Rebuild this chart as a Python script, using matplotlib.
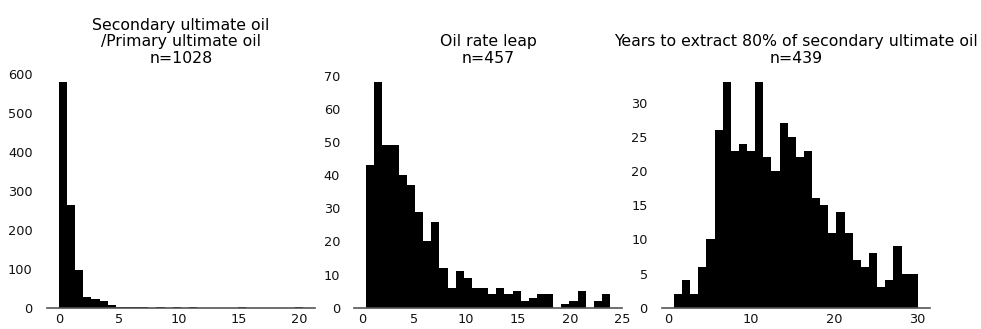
import matplotlib
import numpy as np

matplotlib.use("Agg")
import matplotlib.pyplot as plt

# 直方图计数，每个面板 30 个 bin
ratio_range = (0.0, 20.3)
ratio_counts = [580, 265, 97, 27, 22, 16, 6, 3, 1, 1,
                1, 0, 1, 0, 3, 0, 1, 0, 0, 0,
                0, 0, 1, 0, 0, 0, 0, 0, 0, 3]

leap_range = (0.38, 23.88)
leap_counts = [43, 68, 49, 49, 40, 37, 29, 20, 26, 12,
               6, 11, 9, 6, 6, 4, 6, 4, 5, 2,
               3, 4, 4, 0, 1, 2, 5, 0, 2, 4]

years_range = (0.69, 30.06)
years_counts = [2, 4, 2, 6, 10, 26, 33, 23, 24, 23,
                33, 22, 20, 27, 25, 22, 23, 16, 15, 11,
                14, 11, 7, 6, 8, 3, 4, 9, 5, 5]

titles = ["Secondary ultimate oil\n/Primary ultimate oil\nn=1028",
          "Oil rate leap\nn=457",
          "Years to extract 80% of secondary ultimate oil\nn=439"]
xticks = [[0, 5, 10, 15, 20], [0, 5, 10, 15, 20, 25], [0, 10, 20, 30]]

fig = plt.figure(figsize=(9.81, 3.29), dpi=100)
lefts = [0.0476, 0.3609, 0.6745]
panels = [(ratio_range, ratio_counts), (leap_range, leap_counts),
          (years_range, years_counts)]

for left, (rng, counts), title, xt in zip(lefts, panels, titles, xticks):
    ax = fig.add_axes([left, 0.0647, 0.2735, 0.7195])
    edges = np.linspace(rng[0], rng[1], len(counts) + 1)
    centers = (edges[:-1] + edges[1:]) / 2
    ax.hist(centers, bins=edges, weights=counts, color="black")
    ax.set_xticks(xt)
    ax.set_title(title, fontsize=11.3, linespacing=1.13, pad=6)
    for side in ("top", "right", "left"):
        ax.spines[side].set_visible(False)
    ax.spines["bottom"].set_color("#555555")
    ax.spines["bottom"].set_linewidth(1.2)
    ax.tick_params(length=0, labelsize=9.3, colors="#111111")
    ax.tick_params(axis="y", pad=10)
    ax.tick_params(axis="x", pad=4)

fig.savefig("out.png")
